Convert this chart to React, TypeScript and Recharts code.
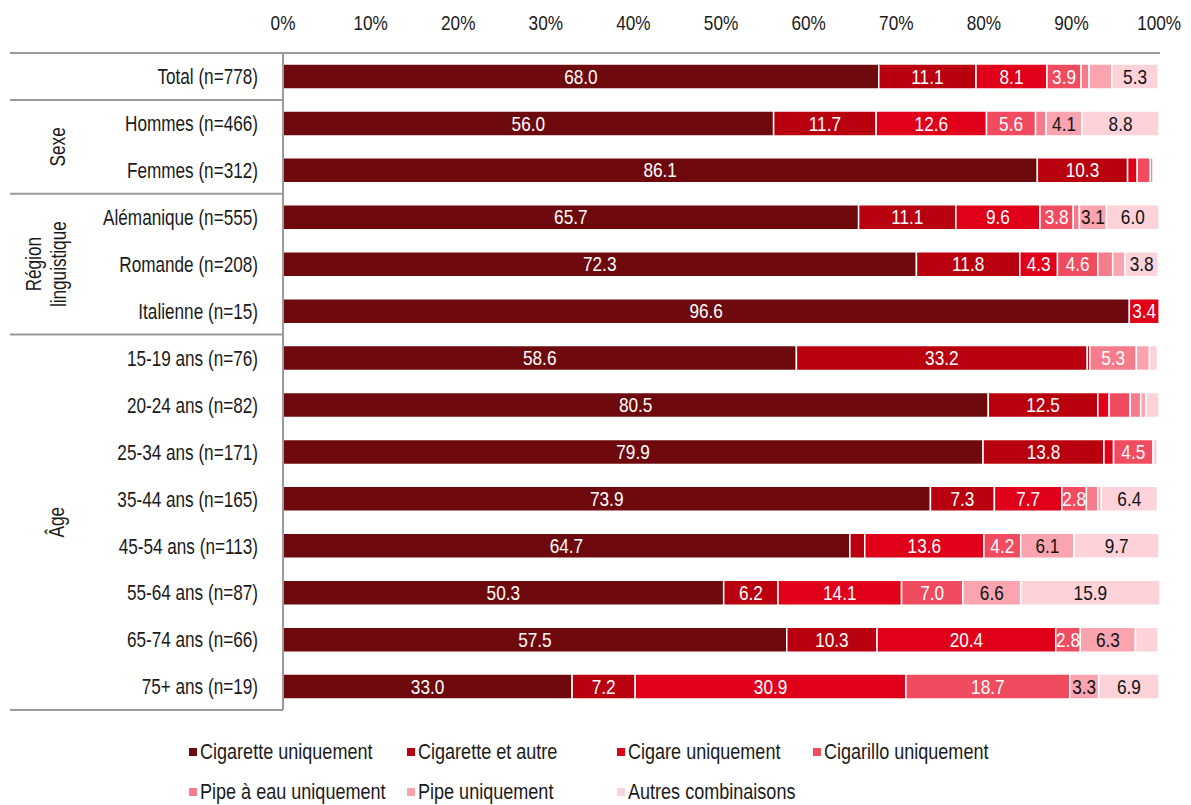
import React from 'react';
import { BarChart, Bar, XAxis, YAxis, LabelList } from 'recharts';

// Arial-metric font squeezed horizontally to look like Arial Narrow
const FONT = "'Liberation Sans', Arial, sans-serif";
const SQUEEZE = 0.82;

// categories (rows, top to bottom)
const categories = [
  'Total (n=778)',
  'Hommes (n=466)',
  'Femmes (n=312)',
  'Alémanique (n=555)',
  'Romande (n=208)',
  'Italienne (n=15)',
  '15-19 ans (n=76)',
  '20-24 ans (n=82)',
  '25-34 ans (n=171)',
  '35-44 ans (n=165)',
  '45-54 ans (n=113)',
  '55-64 ans (n=87)',
  '65-74 ans (n=66)',
  '75+ ans (n=19)',
];

// series values, in %
const cigaretteOnly = [68.0, 56.0, 86.1, 65.7, 72.3, 96.6, 58.6, 80.5, 79.9, 73.9, 64.7, 50.3, 57.5, 33.0];
const cigaretteOther = [11.1, 11.7, 10.3, 11.1, 11.8, 0, 33.2, 12.5, 13.8, 7.3, 1.7, 6.2, 10.3, 7.2];
const cigarOnly = [8.1, 12.6, 1.1, 9.6, 4.3, 3.4, 0.3, 1.3, 1.1, 7.7, 13.6, 14.1, 20.4, 30.9];
const cigarilloOnly = [3.9, 5.6, 1.5, 3.8, 4.6, 0, 0, 2.4, 4.5, 2.8, 4.2, 7.0, 2.8, 18.7];
const waterPipeOnly = [0.9, 1.2, 0.3, 0.7, 1.7, 0, 5.3, 1.2, 0, 1.3, 0, 0, 0, 0];
const pipeOnly = [2.6, 4.1, 0, 3.1, 1.4, 0, 1.5, 0.6, 0, 0.4, 6.1, 6.6, 6.3, 3.3];
const otherCombos = [5.3, 8.8, 0, 6.0, 3.8, 0, 0.9, 1.5, 0.5, 6.4, 9.7, 15.9, 2.6, 6.9];

const xTicks = [0, 10, 20, 30, 40, 50, 60, 70, 80, 90, 100];

const series = [
  { key: 'cigaretteOnly', name: 'Cigarette uniquement', values: cigaretteOnly, color: '#6e0a0e', text: '#fff' },
  { key: 'cigaretteOther', name: 'Cigarette et autre', values: cigaretteOther, color: '#b8000f', text: '#fff' },
  { key: 'cigarOnly', name: 'Cigare uniquement', values: cigarOnly, color: '#e1001a', text: '#fff' },
  { key: 'cigarilloOnly', name: 'Cigarillo uniquement', values: cigarilloOnly, color: '#f04b5f', text: '#fff' },
  { key: 'waterPipeOnly', name: 'Pipe à eau uniquement', values: waterPipeOnly, color: '#f57c8a', text: '#fff' },
  { key: 'pipeOnly', name: 'Pipe uniquement', values: pipeOnly, color: '#f9a4af', text: '#111' },
  { key: 'otherCombos', name: 'Autres combinaisons', values: otherCombos, color: '#fdd3d9', text: '#111' },
];

// row groups shown on the left
const groups = [
  { lines: ['Sexe'], first: 1, last: 2, xs: [49] },
  { lines: ['Région', 'linguistique'], first: 3, last: 5, xs: [25, 50] },
  { lines: ['Âge'], first: 6, last: 13, xs: [48] },
];
const separatorsBefore = [0, 1, 3, 6];

const data = categories.map((name, i) => {
  const row: any = { name };
  series.forEach(s => { row[s.key] = s.values[i]; });
  return row;
});

const W = 1175;
const H = 710;
const TOP = 45;
const BOTTOM = 8;
const AXIS_W = 275;
const BAND = (H - TOP - BOTTOM) / categories.length;
const LABEL_MIN = 2.75;
const LINE = '#9a9a9a';

const NarrowText = ({ x, y, anchor = 'middle', size = 21, squeeze = SQUEEZE, fill = '#1a1a1a', rotate = 0, baseline = 'central', children }: any) => (
  <text
    transform={`translate(${x} ${y})${rotate ? ` rotate(${rotate})` : ''} scale(${squeeze} 1)`}
    x={0}
    y={0}
    textAnchor={anchor}
    dominantBaseline={baseline}
    fontSize={size}
    fill={fill}
    fontFamily={FONT}
  >
    {children}
  </text>
);

const CategoryTick = (props: any) => {
  const { y, payload } = props;
  const idx = categories.indexOf(payload.value);
  const group = groups.find(g => g.first === idx);
  return (
    <g>
      <NarrowText x={250} y={y} anchor="end" size={22} squeeze={0.78}>{payload.value}</NarrowText>
      {separatorsBefore.includes(idx) && (
        <line x1={2} x2={AXIS_W} y1={y - BAND / 2} y2={y - BAND / 2} stroke={LINE} strokeWidth={2} />
      )}
      {idx === categories.length - 1 && (
        <line x1={2} x2={AXIS_W} y1={y + BAND / 2} y2={y + BAND / 2} stroke={LINE} strokeWidth={2} />
      )}
      {group &&
        group.lines.map((line, k) => (
          <NarrowText key={line} x={group.xs[k]} y={y + ((group.last - group.first) * BAND) / 2} rotate={-90} size={22} squeeze={0.78}>
            {line}
          </NarrowText>
        ))}
    </g>
  );
};

const PercentTick = (props: any) => (
  <NarrowText x={props.x} y={props.y} baseline="auto">{`${props.payload.value}%`}</NarrowText>
);

const valueLabel = (color: string) => (props: any) => {
  const { x, y, width, height, value } = props;
  if (value == null || Number(value) < LABEL_MIN) return null;
  return (
    <NarrowText x={Number(x) + Number(width) / 2} y={Number(y) + Number(height) / 2} fill={color}>
      {Number(value).toFixed(1)}
    </NarrowText>
  );
};

const legendCols = [181, 399, 609, 805];
const legendRows = [744, 784];

export default function App() {
  return (
    <div style={{ position: 'relative', width: W, height: 797, fontFamily: FONT }}>
      <BarChart width={W} height={H} data={data} layout="vertical" margin={{ top: 0, right: 23, bottom: BOTTOM, left: 0 }}>
        <XAxis
          type="number"
          orientation="top"
          domain={[0, 100]}
          ticks={xTicks}
          axisLine={{ stroke: LINE, strokeWidth: 2 }}
          tickLine={false}
          tickSize={0}
          tickMargin={23}
          height={TOP}
          tick={(p: any) => <PercentTick {...p} />}
        />
        <YAxis
          type="category"
          dataKey="name"
          width={AXIS_W}
          interval={0}
          axisLine={{ stroke: LINE, strokeWidth: 2 }}
          tickLine={false}
          tick={(p: any) => <CategoryTick {...p} />}
        />
        {series.map(s => (
          <Bar
            key={s.key}
            dataKey={s.key}
            name={s.name}
            stackId="a"
            fill={s.color}
            stroke="#fff"
            strokeWidth={1.5}
            barSize={25}
            isAnimationActive={false}
          >
            <LabelList dataKey={s.key} content={valueLabel(s.text)} />
          </Bar>
        ))}
      </BarChart>
      {series.map((s, i) => {
        const col = i < 4 ? i : i - 4;
        const row = i < 4 ? 0 : 1;
        return (
          <div
            key={s.key}
            style={{
              position: 'absolute',
              left: legendCols[col],
              top: legendRows[row] - 14,
              height: 28,
              display: 'flex',
              alignItems: 'center',
              whiteSpace: 'nowrap',
              fontSize: 22,
              color: '#1a1a1a',
            }}
          >
            <span style={{ display: 'inline-block', width: 8, height: 8, background: s.color, marginRight: 3 }} />
            <span style={{ display: 'inline-block', transform: `scaleX(${SQUEEZE})`, transformOrigin: 'left center' }}>
              {s.name}
            </span>
          </div>
        );
      })}
    </div>
  );
}
